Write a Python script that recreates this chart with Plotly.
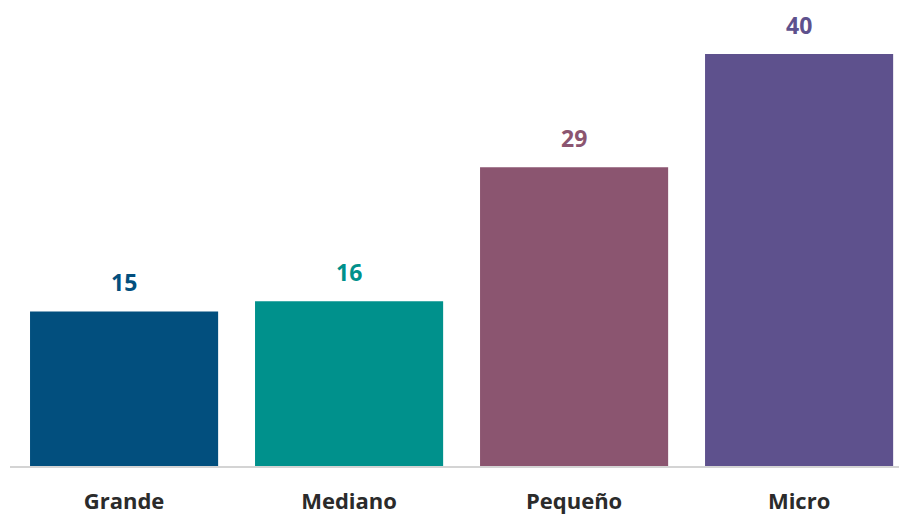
import plotly.graph_objects as go

categories = ["Grande", "Mediano", "Pequeño", "Micro"]
values = [15, 16, 29, 40]
colors = ["#024F7E", "#00918C", "#8B5570", "#5E518D"]

fig = go.Figure()
fig.add_trace(go.Bar(
    x=categories, y=values,
    marker=dict(color=colors, line=dict(width=0)),
    width=0.836,
    hoverinfo="skip",
))
for c, v, col in zip(categories, values, colors):
    fig.add_annotation(
        x=c, y=v, text=str(v), showarrow=False,
        yanchor="bottom", yshift=11,
        font=dict(family="Open Sans", size=23, color=col, weight="bold"),
    )

fig.update_layout(
    width=899, height=515,
    margin=dict(l=10, r=0, t=0, b=48.7),
    paper_bgcolor="white", plot_bgcolor="white",
    showlegend=False,
    xaxis=dict(
        range=[-0.507, 3.444],
        automargin=False,
        showline=True, linecolor="#D4D4D4", linewidth=2,
        ticks="outside", ticklen=15, tickcolor="rgba(0,0,0,0)",
        tickfont=dict(family="Open Sans", size=22, color="#2B2B2B", weight="bold"),
        showgrid=False, zeroline=False,
    ),
    yaxis=dict(
        range=[0, 45.23],
        automargin=False,
        visible=False, showgrid=False, zeroline=False,
    ),
)

fig.write_html("out.html")
